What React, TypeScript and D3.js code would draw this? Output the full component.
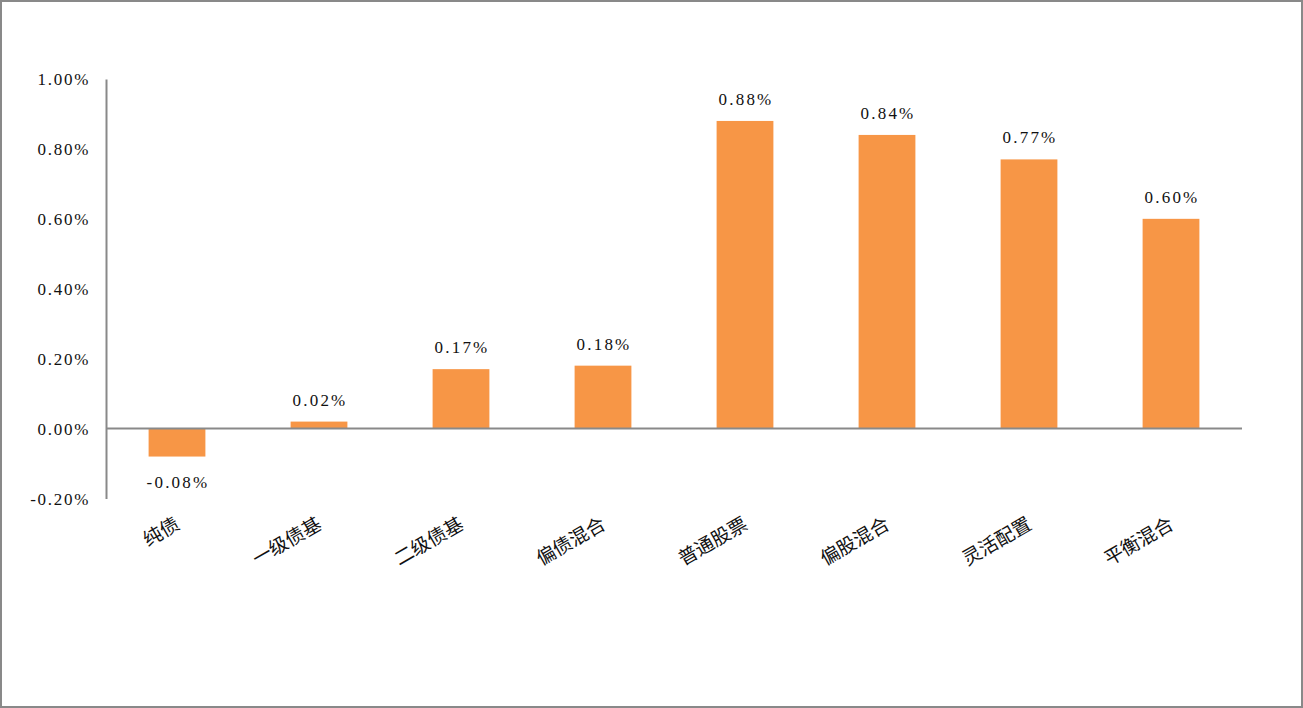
import React, { useEffect, useRef } from 'react';
import * as d3 from 'd3';

const categories = ['纯债', '一级债基', '二级债基', '偏债混合', '普通股票', '偏股混合', '灵活配置', '平衡混合'];
const values = [-0.08, 0.02, 0.17, 0.18, 0.88, 0.84, 0.77, 0.6];
const yTicks = [-0.2, 0, 0.2, 0.4, 0.6, 0.8, 1.0];

const W = 1303;
const H = 708;
const numFont = '"Liberation Serif", "DejaVu Serif", serif';
const cjkFont = '"Noto Sans CJK SC", sans-serif';

const App: React.FC = () => {
  const svgRef = useRef<SVGSVGElement>(null);

  useEffect(() => {
    if (!svgRef.current) return;
    const svg = d3.select(svgRef.current);
    svg.selectAll('*').remove();

    const x = d3.scaleBand<string>()
      .domain(categories)
      .range([106, 1242])
      .paddingInner(0.6)
      .paddingOuter(0.3);

    const y = d3.scaleLinear()
      .domain([-0.2, 1.0])
      .range([498.5, 79]);

    // outer frame
    svg.append('rect')
      .attr('x', 1)
      .attr('y', 1)
      .attr('width', W - 2)
      .attr('height', H - 2)
      .attr('fill', '#fff')
      .attr('stroke', '#898989')
      .attr('stroke-width', 2);

    // bars
    svg.append('g')
      .selectAll('rect')
      .data(values)
      .enter()
      .append('rect')
      .attr('x', (d, i) => x(categories[i])!)
      .attr('width', x.bandwidth())
      .attr('y', d => Math.min(y(d), y(0)))
      .attr('height', d => Math.abs(y(d) - y(0)))
      .attr('fill', '#F79646');

    // y axis
    const yAxis = svg.append('g').attr('transform', 'translate(106,0)');
    yAxis.call(d3.axisLeft(y).tickValues(yTicks).tickSize(0).tickPadding(16)
      .tickFormat(d => `${(d as number).toFixed(2)}%`));
    yAxis.select('.domain').attr('stroke', '#898989').attr('stroke-width', 2);
    yAxis.selectAll('text')
      .attr('font-family', numFont)
      .attr('font-size', 17)
      .attr('letter-spacing', 1.7)
      .attr('fill', '#111')
      .attr('dy', '0.35em');

    // zero line
    svg.append('line')
      .attr('x1', 106)
      .attr('x2', 1242)
      .attr('y1', y(0))
      .attr('y2', y(0))
      .attr('stroke', '#898989')
      .attr('stroke-width', 2);

    // value labels
    svg.append('g')
      .selectAll('text')
      .data(values)
      .enter()
      .append('text')
      .attr('x', (d, i) => x(categories[i])! + x.bandwidth() / 2 + 1)
      .attr('y', d => d >= 0 ? y(d) - 16 : y(d) + 31)
      .attr('text-anchor', 'middle')
      .attr('font-family', numFont)
      .attr('font-size', 17)
      .attr('letter-spacing', 2.2)
      .attr('fill', '#111')
      .text(d => `${d.toFixed(2)}%`);

    // category labels
    svg.append('g')
      .selectAll('text')
      .data(categories)
      .enter()
      .append('text')
      .attr('transform', d => `translate(${x(d)! + x.bandwidth() / 2 + 4},528) rotate(-30)`)
      .attr('text-anchor', 'end')
      .attr('font-family', cjkFont)
      .attr('font-size', 19)
      .attr('fill', '#111')
      .text(d => d);
  }, []);

  return (
    <svg
      ref={svgRef}
      width={W}
      height={H}
      style={{ position: 'absolute', left: 0, top: 0 }}
    />
  );
};

export default App;
